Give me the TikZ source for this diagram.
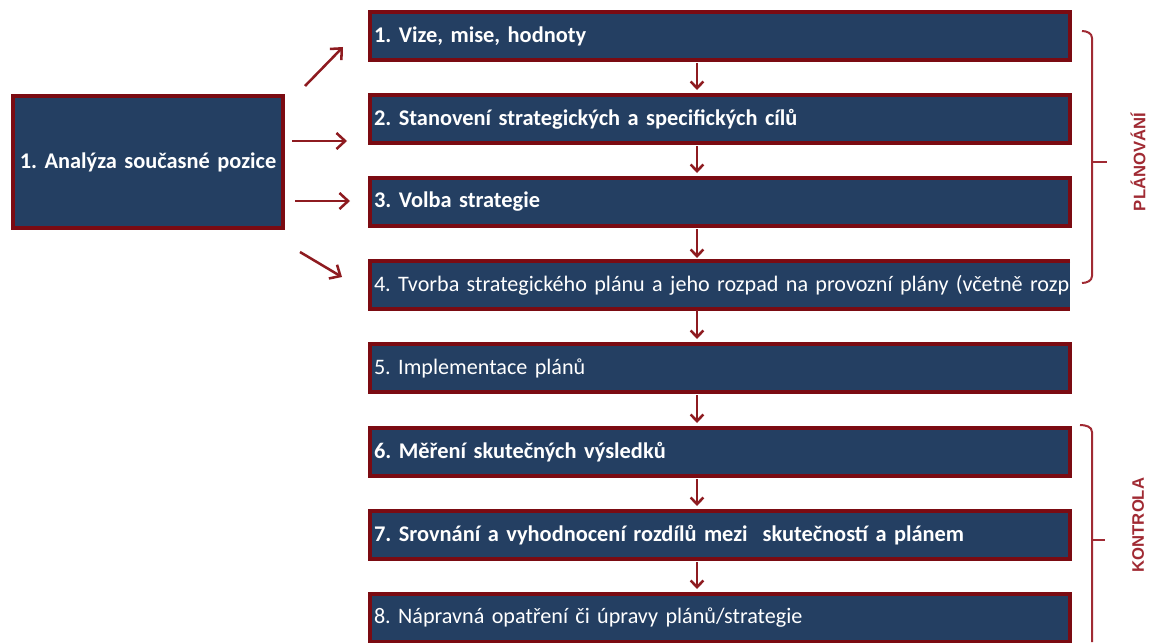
\documentclass[tikz,border=0pt]{standalone}
\usepackage{fontspec}
\setmainfont{Carlito}[WordSpace=0.8]
\newfontfamily\labfont{Liberation Sans}
\usetikzlibrary{arrows.meta}
\definecolor{navy}{HTML}{243F62}
\definecolor{rim}{HTML}{7B0B12}
\definecolor{arrc}{HTML}{8E1B20}
\definecolor{brk}{HTML}{A02A33}
\tikzset{
  stage/.style={rectangle, draw=rim, fill=navy, line width=3pt, text=white,
                font=\fontsize{16.8}{19}\selectfont\bfseries, minimum width=525pt,
                minimum height=36pt, text width=519pt, align=left, inner xsep=3pt},
  thin/.style={font=\fontsize{16.6}{19}\selectfont},
  flow/.style={-{Straight Barb[length=6.5pt, width=12pt]}, line width=1.9pt, draw=arrc},
  down/.style={-{Straight Barb[length=5pt, width=9.5pt]}, line width=1.9pt, draw=arrc},
  brace/.style={line width=1.5pt, draw=brk},
  phase/.style={font=\labfont\fontsize{12.5}{14}\selectfont\bfseries, text=brk, rotate=90},
}

\begin{document}
\frenchspacing
\begin{tikzpicture}[x=0.75pt, y=-0.75pt]
  \useasboundingbox (0,0) rectangle (1151,642);
  % left box
  \node[stage, minimum width=202.5pt, minimum height=99pt, text width=196pt, align=center] (ana) at (148,162) {1. Analýza současné pozice};
  % stages
  \node[stage] (b1) at (720,36) {1. Vize, mise, hodnoty};
  \node[stage] (b2) at (720,119) {2. Stanovení strategických a specifických cílů};
  \node[stage] (b3) at (720,202) {3. Volba strategie};
  \node[stage, thin, draw=none, outer sep=0pt] (b4) at (720,285) {\mbox{4. Tvorba strategického plánu a jeho rozpad na provozní plány (včetně rozp}};
  \draw[line width=3pt, rim] (b4.north east) -- (b4.north west) -- (b4.south west) -- (b4.south east);
  \node[stage, thin] (b5) at (720,368) {5. Implementace plánů};
  \node[stage] (b6) at (720,452) {6. Měření skutečných výsledků};
  \node[stage] (b7) at (720,535) {7. Srovnání a vyhodnocení rozdílů mezi\ \ skutečností a plánem};
  \node[stage, thin] (b8) at (720,618) {8. Nápravná opatření či úpravy plánů/strategie};
  % arrows from the analysis
  \draw[flow] ([shift={(20,-76)}]ana.east) -- ([shift={(-25,11)}]b1.west);
  \draw[flow] ([shift={(7,-21)}]ana.east) -- ([shift={(-21,22)}]b2.west);
  \draw[flow] ([shift={(10,39)}]ana.east) -- ([shift={(-18,-1)}]b3.west);
  \draw[flow] ([shift={(15,90)}]ana.east) -- ([shift={(-28,-8)}]b4.west);
  % flow down
  \foreach \a/\b in {b1/b2, b2/b3, b3/b4, b4/b5, b5/b6, b6/b7, b7/b8}
    \draw[down] ([shift={(-23,1)}]\a.south) -- ([shift={(-23,-3)}]\b.north);
  % brackets
  \draw[brace] (1082,31) to[out=0, in=90] (1092,38) -- (1092,276) to[out=-90, in=0] (1082,283);
  \draw[brace] (1092,162) -- (1107,162);
  \draw[brace] (1080,425) to[out=0, in=90] (1092,432) -- (1092,642);
  \draw[brace] (1092,540) -- (1105,540);
  \node[phase] (plan) at (1138,162) {PLÁNOVÁNÍ};
  \node[phase] (kontr) at (1138,525) {KONTROLA};
\end{tikzpicture}
\end{document}
